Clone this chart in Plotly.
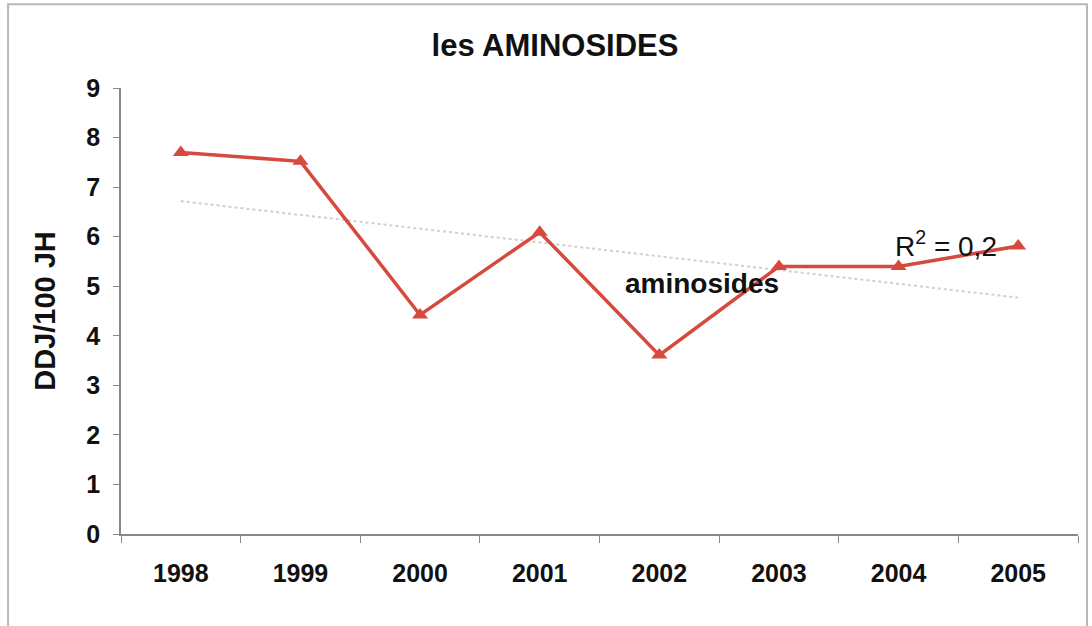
import numpy as np
import plotly.graph_objects as go

# Consommation d'aminosides (DDJ/100 JH) par année
years = ["1998", "1999", "2000", "2001", "2002", "2003", "2004", "2005"]
ddj = [7.70, 7.52, 4.42, 6.09, 3.61, 5.40, 5.40, 5.81]
series_name = "aminosides"
title_text = "les AMINOSIDES"
y_title = "DDJ/100 JH"
y_ticks = [0, 1, 2, 3, 4, 5, 6, 7, 8, 9]

# Tendance linéaire (moindres carrés) et coefficient de détermination
idx = np.arange(len(ddj))
slope, intercept = np.polyfit(idx, ddj, 1)
trend = slope * idx + intercept
resid = np.array(ddj) - trend
r2 = 1 - (resid ** 2).sum() / ((np.array(ddj) - np.mean(ddj)) ** 2).sum()
r2_label = "R<sup>2</sup> = " + f"{r2:.1f}".replace(".", ",")

FONT = "Liberation Sans, Arial, sans-serif"
RED = "#d64a3e"

fig = go.Figure()
fig.add_trace(go.Scatter(
    x=years, y=trend, mode="lines",
    line=dict(color="#d8cccc", width=2, dash="dot"),
    hoverinfo="skip", showlegend=False,
))
fig.add_trace(go.Scatter(
    x=years, y=ddj, mode="lines+markers", name=series_name,
    line=dict(color=RED, width=3.5),
    marker=dict(symbol="triangle-up", size=14, color=RED),
    showlegend=False,
))

fig.add_annotation(x=3.70, y=5.06, xref="x", yref="y", text=f"<b>{series_name}</b>",
                   showarrow=False, xanchor="left", yanchor="middle",
                   font=dict(family=FONT, size=28, color="#111"))
fig.add_annotation(x=5.95, y=5.85, xref="x", yref="y", text=r2_label,
                   showarrow=False, xanchor="left", yanchor="middle",
                   font=dict(family=FONT, size=28, color="#111"))

# cadre du graphique
fig.add_shape(type="rect", xref="paper", yref="paper",
              x0=-0.118, x1=1.0094, y0=-0.23, y1=1.188,
              line=dict(color="#b8b8b8", width=2), layer="below")

fig.update_layout(
    width=1092, height=626,
    margin=dict(l=121, r=14, t=88, b=92),
    paper_bgcolor="white", plot_bgcolor="white",
    title=dict(text=f"<b>{title_text}</b>", xref="container", x=555 / 1092,
               xanchor="center", y=1 - 45 / 626, yanchor="middle",
               font=dict(family=FONT, size=31, color="#111")),
    xaxis=dict(
        type="category", range=[-0.5, 7.5],
        showline=True, linecolor="#888", linewidth=1.5,
        ticks="outside", tickson="boundaries", ticklen=7, tickcolor="#888",
        showgrid=False, zeroline=False,
        tickfont=dict(family=FONT, size=25, color="#111", weight="bold"),
        ticklabelstandoff=16,
    ),
    yaxis=dict(
        range=[0, 9], tickvals=y_ticks,
        showline=True, linecolor="#888", linewidth=1.5,
        ticks="outside", ticklen=6, tickcolor="#888",
        showgrid=False, zeroline=False,
        tickfont=dict(family=FONT, size=25, color="#111", weight="bold"),
        ticklabelstandoff=8,
        title=dict(text=f"<b>{y_title}</b>", standoff=22,
                   font=dict(family=FONT, size=29, color="#111")),
    ),
)

fig.write_html("out.html")
